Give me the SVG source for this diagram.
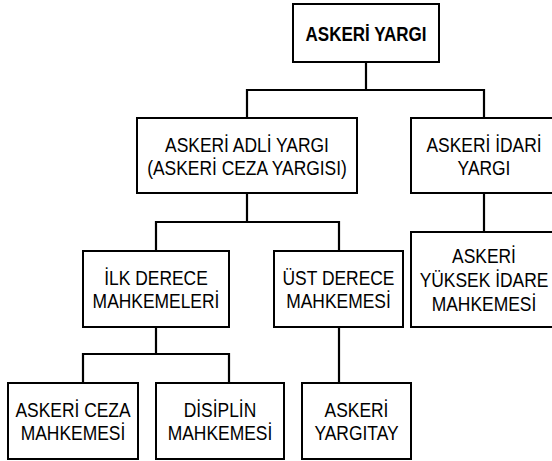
<svg xmlns="http://www.w3.org/2000/svg" width="552" height="461" viewBox="0 0 552 461">
<style>
rect{fill:#fff;stroke:#000;stroke-width:2}
.c path{fill:none;stroke:#000;stroke-width:2.2}
text{font-family:"Liberation Sans",Arial,sans-serif;font-size:21px;fill:#000;text-anchor:middle}
.b{font-weight:bold}
</style>
<rect x="0" y="0" width="552" height="461" style="stroke:none"/>
<g class="c" id="connectors">
<path d="M366 62V90M247 90H484M247 89V118M484 89V118"/>
<path d="M484 193V232"/>
<path d="M247 193V222M156 222H339M156 221V251M339 221V251"/>
<path d="M156 327V354M83 354H229M83 353V383M229 353V383"/>
<path d="M339 327V383"/>
</g>
<g id="n-askeri-yargi"><rect x="293" y="4" width="146" height="58"/><text class="b" transform="translate(366,40.5) scale(0.81,1)">ASKERİ YARGI</text></g>
<g id="n-adli"><rect x="137" y="118" width="220" height="75"/><text transform="translate(247,151.5) scale(0.83,1)"><tspan x="0">ASKERİ ADLİ YARGI</tspan><tspan x="0" dy="24">(ASKERİ CEZA YARGISI)</tspan></text></g>
<g id="n-idari"><rect x="411" y="118" width="146" height="75"/><text transform="translate(484,151.5) scale(0.83,1)"><tspan x="0">ASKERİ İDARİ</tspan><tspan x="0" dy="24">YARGI</tspan></text></g>
<g id="n-yuksek"><rect x="411" y="232" width="146" height="95"/><text transform="translate(484,263) scale(0.83,1)"><tspan x="0">ASKERİ</tspan><tspan x="0" dy="24">YÜKSEK İDARE</tspan><tspan x="0" dy="24">MAHKEMESİ</tspan></text></g>
<g id="n-ilk"><rect x="83" y="251" width="146" height="76"/><text transform="translate(156,284.5) scale(0.83,1)"><tspan x="0">İLK DERECE</tspan><tspan x="0" dy="24">MAHKEMELERİ</tspan></text></g>
<g id="n-ust"><rect x="274" y="251" width="129" height="76"/><text transform="translate(338.5,284.5) scale(0.83,1)"><tspan x="0">ÜST DERECE</tspan><tspan x="0" dy="24">MAHKEMESİ</tspan></text></g>
<g id="n-ceza"><rect x="8" y="383" width="130" height="76"/><text transform="translate(73,416.5) scale(0.83,1)"><tspan x="0">ASKERİ CEZA</tspan><tspan x="0" dy="24">MAHKEMESİ</tspan></text></g>
<g id="n-disiplin"><rect x="156" y="383" width="128" height="76"/><text transform="translate(220,416.5) scale(0.83,1)"><tspan x="0">DİSİPLİN</tspan><tspan x="0" dy="24">MAHKEMESİ</tspan></text></g>
<g id="n-yargitay"><rect x="302" y="383" width="109" height="76"/><text transform="translate(356.5,416.5) scale(0.83,1)"><tspan x="0">ASKERİ</tspan><tspan x="0" dy="24">YARGITAY</tspan></text></g>
</svg>
